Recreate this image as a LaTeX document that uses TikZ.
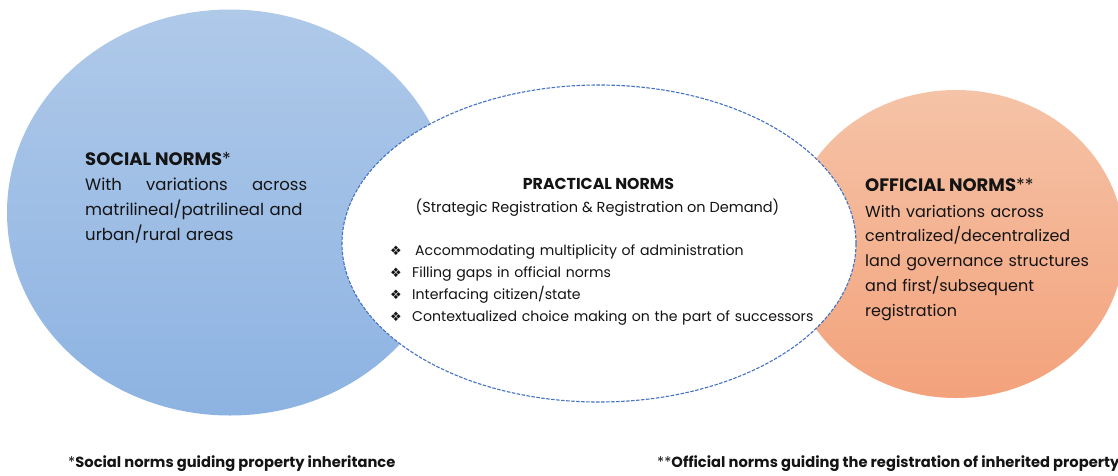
\documentclass[tikz,border=0pt]{standalone}
\usepackage{fontspec}
\setmainfont{Poppins}
\newfontfamily\symfont{DejaVu Sans}
\usetikzlibrary{shapes.geometric}
\definecolor{socialtop}{HTML}{AFC9E9}
\definecolor{socialbot}{HTML}{8DB3E2}
\definecolor{officialtop}{HTML}{F5C3A7}
\definecolor{officialbot}{HTML}{F3A27B}
\definecolor{dashblue}{HTML}{4472C4}
\definecolor{ink}{HTML}{141414}
\newcommand{\itm}{\makebox[22pt][l]{\symfont\fontsize{13}{13}\selectfont ❖}}
\tikzset{
  norm/.style={ellipse, inner sep=0pt, draw=none},
  txt/.style={inner sep=0pt, text=ink},
  head/.style={txt, anchor=base west, font=\bfseries\fontsize{18}{22}\selectfont},
}
\begin{document}
\begin{tikzpicture}[x=1pt, y=-1pt]
    \useasboundingbox (0,0) rectangle (1118,475);
    % the three norm fields
    \node[norm, minimum width=446pt, minimum height=406pt, top color=socialtop, bottom color=socialbot] (social) at (230,212.5) {};
    \node[norm, minimum width=336pt, minimum height=308pt, top color=officialtop, bottom color=officialbot] (official) at (956,244) {};
    \node[norm, minimum width=514pt, minimum height=317pt, fill=white, draw=dashblue, line width=1.1pt, dash pattern=on 3.5pt off 1.5pt] (practical) at (599,243.5) {};
    % social norms
    \node[head] (socialhead) at (85,165) {SOCIAL NORMS{\mdseries*}};
    \node[txt, anchor=base west, text width=222pt, align=left, font=\fontsize{16.5}{25}\selectfont] (socialtxt) at (85,190)
        {With\hfill variations\hfill across\\ matrilineal/patrilineal and\\ urban/rural areas};
    % practical norms
    \node[txt, anchor=base, font=\bfseries\fontsize{15.8}{18}\selectfont] (practhead) at (598.5,189) {PRACTICAL NORMS};
    \node[txt, anchor=base, font=\fontsize{14.5}{18}\selectfont] (practsub) at (597.5,212) {(Strategic Registration \& Registration on Demand)};
    \node[txt, anchor=base west, text width=440pt, align=left, font=\fontsize{14.1}{22.3}\selectfont] (practlist) at (390,255)
        {\itm\hspace{3pt}Accommodating multiplicity of administration\\
         \itm Filling gaps in official norms\\
         \itm Interfacing citizen/state\\
         \itm Contextualized choice making on the part of successors};
    % official norms
    \node[head] (officialhead) at (865,191) {OFFICIAL NORMS{\mdseries**}};
    \node[txt, anchor=base west, text width=250pt, align=left, font=\fontsize{16}{24.8}\selectfont] (officialtxt) at (865,217)
        {With variations across\\ centralized/decentralized\\ land governance structures\\ and first/subsequent\\ registration};
    % footnotes
    \node[txt, anchor=base west, font=\fontsize{14.7}{18}\selectfont] (socialnote) at (68,467) {*\textbf{Social norms guiding property inheritance}};
    \node[txt, anchor=base west, font=\fontsize{14.7}{18}\selectfont] (officialnote) at (657,467) {**\textbf{Official norms guiding the registration of inherited property}};
\end{tikzpicture}
\end{document}
